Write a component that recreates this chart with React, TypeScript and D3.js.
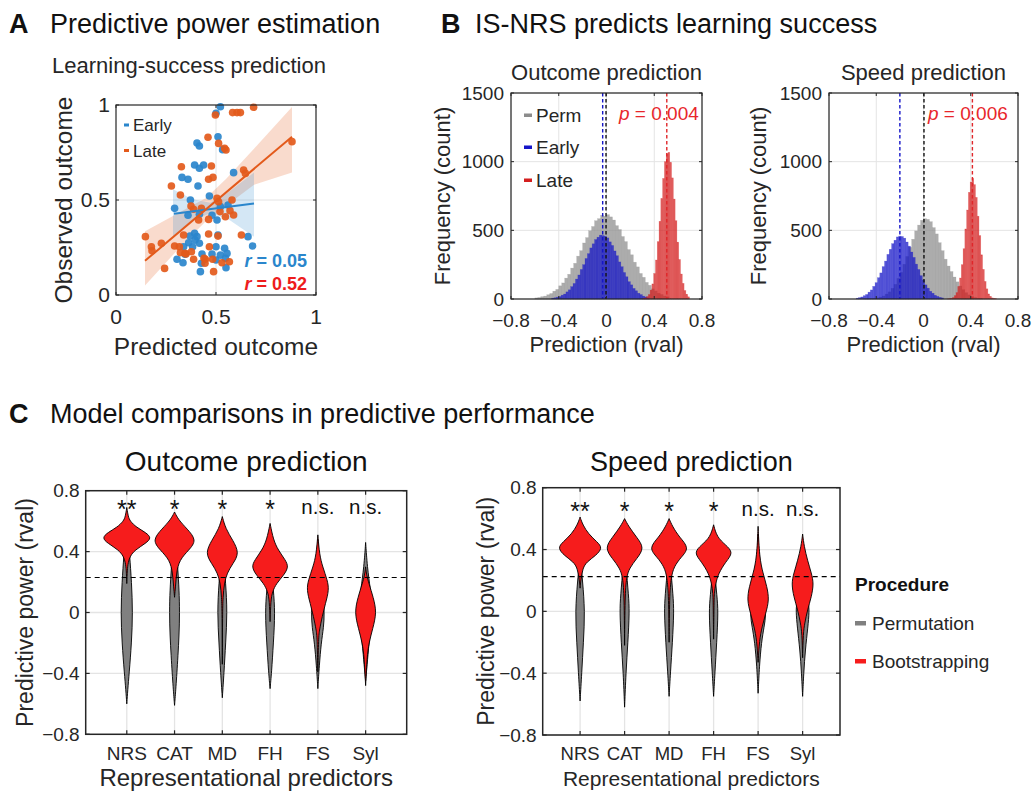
import React from "react";
import * as d3 from "d3";

const FONT = "'Liberation Sans', Arial, Helvetica, sans-serif";
const INK = "#262626";
const GRID = "#e4e4e4";

// ---------------- Panel A: scatter ----------------
const earlyPoints: [number, number][] = [
  [0.522, 0.991], [0.5, 0.956], [0.405, 0.8], [0.417, 0.784], [0.51, 0.833], [0.533, 0.765],
  [0.393, 0.684], [0.417, 0.667], [0.438, 0.684], [0.33, 0.619], [0.36, 0.609], [0.588, 0.644],
  [0.41, 0.574], [0.372, 0.5], [0.467, 0.521], [0.293, 0.456], [0.36, 0.42], [0.417, 0.425],
  [0.48, 0.42], [0.522, 0.465], [0.56, 0.474], [0.505, 0.395], [0.393, 0.325], [0.405, 0.307],
  [0.363, 0.275], [0.338, 0.254], [0.383, 0.254], [0.417, 0.272], [0.43, 0.216], [0.305, 0.188],
  [0.335, 0.17], [0.427, 0.167], [0.48, 0.216], [0.5, 0.254], [0.422, 0.123], [0.51, 0.316],
  [0.66, 0.307], [0.683, 0.258], [0.543, 0.246], [0.555, 0.219], [0.522, 0.21], [0.547, 0.193],
  [0.5, 0.184], [0.55, 0.144], [0.37, 0.31], [0.395, 0.289], [0.345, 0.215],
];
const latePoints: [number, number][] = [
  [0.46, 0.83], [0.327, 0.675], [0.477, 0.679], [0.463, 0.609], [0.485, 0.619], [0.277, 0.574],
  [0.322, 0.526], [0.375, 0.468], [0.388, 0.451], [0.427, 0.456], [0.413, 0.395], [0.463, 0.398],
  [0.147, 0.307], [0.177, 0.254], [0.18, 0.233], [0.227, 0.272], [0.293, 0.258], [0.317, 0.254],
  [0.322, 0.223], [0.338, 0.316], [0.377, 0.228], [0.35, 0.216], [0.243, 0.14], [0.463, 0.321],
  [0.447, 0.188], [0.483, 0.188], [0.388, 0.188], [0.467, 0.254], [0.583, 0.96], [0.605, 0.96],
  [0.622, 0.96], [0.688, 0.988], [0.497, 0.947], [0.513, 0.798], [0.543, 0.772], [0.55, 0.763],
  [0.88, 0.807], [0.638, 0.658], [0.647, 0.64], [0.505, 0.509], [0.513, 0.491], [0.58, 0.5],
  [0.547, 0.412], [0.588, 0.421], [0.627, 0.316], [0.51, 0.31], [0.567, 0.175], [0.53, 0.17],
  [0.488, 0.123], [0.44, 0.193], [0.445, 0.167], [0.345, 0.219], [0.57, 0.444], [0.52, 0.439],
];
const earlyFit: [number, number][] = [[0.29, 0.428], [0.69, 0.482]];
const lateFit: [number, number][] = [[0.145, 0.18], [0.88, 0.833]];
const earlyCI: [number, number, number][] = [
  [0.285, 0.307, 0.556], [0.38, 0.39, 0.505], [0.47, 0.43, 0.485], [0.56, 0.4, 0.54], [0.69, 0.307, 0.645],
];
const lateCI: [number, number, number][] = [
  [0.145, 0.05, 0.335], [0.31, 0.24, 0.43], [0.45, 0.39, 0.51], [0.55, 0.47, 0.61], [0.69, 0.58, 0.77], [0.88, 0.645, 0.99],
];
const scatterTicks = [0, 0.5, 1];
const rEarly = "0.05";
const rLate = "0.52";

// ---------------- Panel B: histograms ----------------
const histTicksX = [-0.8, -0.4, 0, 0.4, 0.8];
const histTicksY = [0, 500, 1000, 1500];
// [binStart, binWidth]
const outcomePermBins: [number, number] = [-0.6, 0.025];
const outcomePermCounts = [8, 11, 17, 21, 31, 40, 57, 70, 96, 117, 152, 180, 225, 260, 312, 352, 408, 447, 497, 528, 570, 585, 610, 603, 614, 598, 575, 534, 506, 455, 418, 360, 322, 268, 234, 186, 158, 121, 100, 74, 59, 42, 33, 22, 16];
const outcomeEarlyBins: [number, number] = [-0.46, 0.02];
const outcomeEarlyCounts = [6, 9, 14, 18, 28, 36, 52, 67, 90, 113, 145, 175, 215, 250, 295, 330, 372, 402, 433, 450, 465, 462, 457, 445, 416, 390, 350, 315, 270, 235, 193, 162, 126, 103, 77, 60, 42, 32, 21, 15, 9];
const outcomeLateBins: [number, number] = [0.305, 0.015];
const outcomeLateCounts = [4, 8, 18, 33, 65, 110, 186, 284, 418, 566, 732, 878, 1000, 1058, 1068, 995, 882, 728, 570, 414, 288, 182, 114, 62, 35, 16];
const speedPermBins: [number, number] = [-0.5, 0.025];
const speedPermCounts = [1, 2, 3, 5, 9, 14, 22, 36, 52, 78, 107, 150, 194, 253, 310, 377, 435, 496, 538, 573, 585, 580, 563, 520, 474, 410, 352, 290, 240, 200, 160, 125, 95, 68, 46, 30, 19, 11, 6, 3];
const speedEarlyBins: [number, number] = [-0.57, 0.02];
const speedEarlyCounts = [6, 10, 15, 24, 33, 50, 66, 92, 119, 155, 190, 236, 276, 325, 362, 403, 428, 452, 458, 455, 443, 415, 385, 342, 303, 254, 215, 170, 138, 103, 79, 56, 42, 27, 19, 12, 8];
const speedLateBins: [number, number] = [0.2, 0.015];
const speedLateCounts = [1, 2, 5, 11, 25, 47, 91, 153, 250, 366, 510, 648, 777, 852, 880, 833, 740, 603, 462, 322, 216, 128, 74, 37, 20, 8, 4, 2];
// dashed reference lines [early, perm, late]
const outcomeMarks = [-0.032, -0.004, 0.505];
const speedMarks = [-0.2, 0.004, 0.414];
const outcomeP = "0.004";
const speedP = "0.006";
const histLegend = ["Perm", "Early", "Late"];

// ---------------- Panel C: violins ----------------
const predictors = ["NRS", "CAT", "MD", "FH", "FS", "Syl"];
const violinTicksY = [-0.8, -0.4, 0, 0.4, 0.8];
const outcomeSig = ["**", "*", "*", "*", "n.s.", "n.s."];
const speedSig = ["**", "*", "*", "*", "n.s.", "n.s."];
const outcomeThreshold = 0.23;
const speedThreshold = 0.225;
type Knots = [number, number][];
// [value, half-width in category units]
const outcomePerm: Knots[] = [
  [[-0.6, 0], [-0.51, 0.02], [-0.4, 0.05], [-0.2, 0.1], [0, 0.125], [0.2, 0.1], [0.38, 0.06], [0.5, 0.025], [0.6, 0]],
  [[-0.61, 0], [-0.5, 0.028], [-0.3, 0.07], [0, 0.12], [0.3, 0.07], [0.45, 0.02], [0.52, 0]],
  [[-0.56, 0], [-0.4, 0.035], [-0.2, 0.07], [0, 0.105], [0.2, 0.07], [0.35, 0.025], [0.42, 0]],
  [[-0.5, 0], [-0.4, 0.03], [-0.2, 0.07], [0, 0.105], [0.15, 0.07], [0.28, 0.025], [0.35, 0]],
  [[-0.5, 0], [-0.35, 0.03], [-0.2, 0.07], [-0.1, 0.12], [0, 0.14], [0.1, 0.105], [0.3, 0.04], [0.48, 0]],
  [[-0.45, 0], [-0.35, 0.03], [-0.2, 0.07], [-0.05, 0.125], [0.05, 0.14], [0.15, 0.1], [0.3, 0.035], [0.46, 0]],
];
const outcomeBoot: Knots[] = [
  [[0.19, 0], [0.28, 0.01], [0.33, 0.03], [0.37, 0.07], [0.41, 0.17], [0.455, 0.4], [0.49, 0.52], [0.525, 0.4], [0.56, 0.2], [0.6, 0.07], [0.63, 0.03], [0.69, 0]],
  [[0.1, 0], [0.17, 0.02], [0.26, 0.04], [0.345, 0.1], [0.41, 0.3], [0.475, 0.47], [0.55, 0.26], [0.61, 0.08], [0.66, 0]],
  [[-0.34, 0], [0, 0.005], [0.1, 0.015], [0.19, 0.04], [0.26, 0.1], [0.32, 0.22], [0.39, 0.36], [0.475, 0.22], [0.55, 0.07], [0.63, 0]],
  [[-0.06, 0], [0.08, 0.015], [0.137, 0.05], [0.19, 0.13], [0.246, 0.29], [0.3, 0.39], [0.345, 0.32], [0.41, 0.17], [0.476, 0.07], [0.585, 0]],
  [[-0.39, 0], [-0.16, 0.015], [-0.115, 0.035], [-0.027, 0.09], [0.06, 0.16], [0.148, 0.235], [0.213, 0.2], [0.3, 0.1], [0.38, 0.035], [0.51, 0]],
  [[-0.48, 0], [-0.29, 0.03], [-0.2, 0.07], [-0.11, 0.145], [0, 0.235], [0.1, 0.16], [0.19, 0.07], [0.246, 0.02], [0.3, 0]],
];
const speedPerm: Knots[] = [
  [[-0.58, 0], [-0.4, 0.037], [-0.2, 0.075], [0, 0.11], [0.2, 0.055], [0.3, 0.02], [0.4, 0]],
  [[-0.62, 0], [-0.4, 0.03], [-0.2, 0.075], [0, 0.11], [0.1, 0.09], [0.3, 0.03], [0.4, 0]],
  [[-0.55, 0], [-0.4, 0.03], [-0.2, 0.075], [0, 0.11], [0.1, 0.09], [0.3, 0.03], [0.4, 0]],
  [[-0.55, 0], [-0.4, 0.03], [-0.2, 0.07], [0, 0.105], [0.1, 0.075], [0.25, 0.025], [0.35, 0]],
  [[-0.53, 0], [-0.35, 0.03], [-0.2, 0.075], [-0.1, 0.135], [-0.02, 0.18], [0.05, 0.135], [0.2, 0.045], [0.5, 0]],
  [[-0.55, 0], [-0.4, 0.025], [-0.25, 0.06], [-0.1, 0.12], [0, 0.15], [0.05, 0.135], [0.2, 0.045], [0.45, 0]],
];
const speedBoot: Knots[] = [
  [[0.15, 0], [0.2, 0.015], [0.28, 0.06], [0.32, 0.15], [0.36, 0.35], [0.41, 0.51], [0.45, 0.38], [0.5, 0.19], [0.56, 0.06], [0.61, 0]],
  [[-0.22, 0], [0.1, 0.01], [0.22, 0.04], [0.28, 0.11], [0.34, 0.27], [0.41, 0.45], [0.48, 0.27], [0.55, 0.09], [0.6, 0]],
  [[-0.2, 0], [0.1, 0.01], [0.22, 0.045], [0.29, 0.11], [0.35, 0.27], [0.41, 0.46], [0.48, 0.23], [0.55, 0.075], [0.6, 0]],
  [[-0.18, 0], [0.05, 0.01], [0.115, 0.015], [0.18, 0.045], [0.245, 0.11], [0.32, 0.27], [0.38, 0.45], [0.43, 0.27], [0.48, 0.075], [0.56, 0]],
  [[-0.33, 0], [-0.185, 0.03], [-0.1, 0.09], [-0.013, 0.17], [0.073, 0.25], [0.16, 0.2], [0.245, 0.11], [0.35, 0.03], [0.55, 0]],
  [[-0.3, 0], [-0.14, 0.015], [-0.08, 0.045], [0.01, 0.11], [0.095, 0.2], [0.18, 0.25], [0.245, 0.2], [0.33, 0.11], [0.42, 0.035], [0.5, 0]],
];
const procedureLegend = ["Permutation", "Bootstrapping"];

// ---------------- colours ----------------
const C_EARLY = "#2a86cc";
const C_LATE = "#e35a1b";
const C_R = "#ee1c1c";
const H_GRAY = "#8c8c8c";
const H_BLUE = "#1515c8";
const H_RED = "#d41f1f";
const V_GRAY = "#808080";
const V_RED = "#f61c1c";

function fmt(v: number) {
  if (v === 0) return "0";
  const s = String(v);
  return v < 0 ? "\u2212" + s.slice(1) : s;
}

function PanelA() {
  const L = 116, R = 316, T = 105, B = 295;
  const x = d3.scaleLinear().domain([0, 1]).range([L, R]);
  const y = d3.scaleLinear().domain([0, 1]).range([B, T]);
  const band = d3.area<[number, number, number]>().x((d) => x(d[0])).y0((d) => y(d[1])).y1((d) => y(d[2]));
  const line = d3.line<[number, number]>().x((d) => x(d[0])).y((d) => y(d[1]));
  return (
    <g>
      <text x={52} y={73} fontSize={22} fill={INK}>Learning-success prediction</text>
      <line x1={x(0.5)} x2={x(0.5)} y1={T} y2={B} stroke={GRID} />
      <line x1={L} x2={R} y1={y(0.5)} y2={y(0.5)} stroke={GRID} />
      <path d={band(lateCI) || ""} fill={C_LATE} fillOpacity={0.22} />
      <path d={band(earlyCI) || ""} fill={C_EARLY} fillOpacity={0.2} />
      {earlyPoints.map((p, i) => (
        <circle key={"e" + i} cx={x(p[0])} cy={y(p[1])} r={3.8} fill={C_EARLY} fillOpacity={0.92} />
      ))}
      {latePoints.map((p, i) => (
        <circle key={"l" + i} cx={x(p[0])} cy={y(p[1])} r={3.8} fill={C_LATE} fillOpacity={0.92} />
      ))}
      <path d={line(earlyFit) || ""} stroke={C_EARLY} strokeWidth={2} fill="none" />
      <path d={line(lateFit) || ""} stroke={C_LATE} strokeWidth={2} fill="none" />
      <rect x={L} y={T} width={R - L} height={B - T} fill="none" stroke={INK} strokeWidth={1.2} />
      {scatterTicks.map((t) => (
        <g key={"t" + t}>
          <line x1={x(t)} x2={x(t)} y1={B} y2={B - 3} stroke={INK} />
          <line x1={x(t)} x2={x(t)} y1={T} y2={T + 3} stroke={INK} />
          <line x1={L} x2={L + 3} y1={y(t)} y2={y(t)} stroke={INK} />
          <line x1={R} x2={R - 3} y1={y(t)} y2={y(t)} stroke={INK} />
          <text x={x(t)} y={324} fontSize={21} textAnchor="middle" fill={INK}>{fmt(t)}</text>
          <text x={L - 6} y={y(t)} dy="0.35em" fontSize={21} textAnchor="end" fill={INK}>{fmt(t)}</text>
        </g>
      ))}
      <rect x={124} y={123.5} width={5} height={3} fill={C_EARLY} />
      <text x={133} y={131} fontSize={17} fill={INK}>Early</text>
      <rect x={124} y={149} width={5} height={3} fill={C_LATE} />
      <text x={133} y={156.5} fontSize={17} fill={INK}>Late</text>
      <text x={307} y={267} fontSize={18} fontWeight="bold" textAnchor="end" fill={C_EARLY}>
        <tspan fontStyle="italic">r</tspan> = {rEarly}
      </text>
      <text x={307} y={290} fontSize={18} fontWeight="bold" textAnchor="end" fill={C_R}>
        <tspan fontStyle="italic">r</tspan> = {rLate}
      </text>
      <text x={(L + R) / 2} y={355} fontSize={24.5} textAnchor="middle" fill={INK}>Predicted outcome</text>
      <text transform={`translate(72,${(T + B) / 2}) rotate(-90)`} fontSize={24.5} textAnchor="middle" fill={INK}>Observed outcome</text>
    </g>
  );
}

type HistSeries = { bins: [number, number]; counts: number[]; color: string };

function Hist(props: {
  L: number; R: number; title: string; ylabelX: number; series: HistSeries[]; marks: number[]; p: string; pX: number; legend: boolean;
}) {
  const { L, R } = props;
  const T = 93, B = 299;
  const x = d3.scaleLinear().domain([-0.8, 0.8]).range([L, R]);
  const y = d3.scaleLinear().domain([0, 1500]).range([B, T]);
  const markColors = [H_BLUE, "#111", "#e0262a"];
  const cx = (L + R) / 2;
  return (
    <g>
      <text x={cx} y={80} fontSize={22} textAnchor="middle" fill={INK}>{props.title}</text>
      {histTicksX.map((t) => (
        <line key={"gx" + t} x1={x(t)} x2={x(t)} y1={T} y2={B} stroke={GRID} />
      ))}
      {histTicksY.map((t) => (
        <line key={"gy" + t} x1={L} x2={R} y1={y(t)} y2={y(t)} stroke={GRID} />
      ))}
      {props.series.map((s, si) => (
        <g key={"s" + si}>
          {s.counts.map((c, i) => {
            const a = s.bins[0] + i * s.bins[1];
            const b = a + s.bins[1];
            return (
              <rect key={i} x={x(a)} width={x(b) - x(a)} y={y(c)} height={B - y(c)} fill={s.color} fillOpacity={0.72}
                stroke={s.color} strokeOpacity={0.35} strokeWidth={0.5} />
            );
          })}
        </g>
      ))}
      {props.marks.map((m, i) => (
        <line key={"m" + i} x1={x(m)} x2={x(m)} y1={T} y2={B} stroke={markColors[i]} strokeWidth={1.4} strokeDasharray="3.5,2.5" />
      ))}
      <rect x={L} y={T} width={R - L} height={B - T} fill="none" stroke={INK} strokeWidth={1.2} />
      {histTicksX.map((t) => (
        <g key={"tx" + t}>
          <line x1={x(t)} x2={x(t)} y1={B} y2={B - 3} stroke={INK} />
          <line x1={x(t)} x2={x(t)} y1={T} y2={T + 3} stroke={INK} />
          <text x={x(t)} y={327} fontSize={19} textAnchor="middle" fill={INK}>{fmt(t)}</text>
        </g>
      ))}
      {histTicksY.map((t) => (
        <g key={"ty" + t}>
          <line x1={L} x2={L + 3} y1={y(t)} y2={y(t)} stroke={INK} />
          <line x1={R} x2={R - 3} y1={y(t)} y2={y(t)} stroke={INK} />
          <text x={L - 7} y={y(t)} dy="0.35em" fontSize={19} textAnchor="end" fill={INK}>{t}</text>
        </g>
      ))}
      <text x={props.pX} y={120} fontSize={19} fill="#e8262b">
        <tspan fontStyle="italic">p</tspan> = {props.p}
      </text>
      {props.legend &&
        histLegend.map((name, i) => (
          <g key={name}>
            <rect x={524} y={[113.5, 145.5, 178.5][i]} width={8} height={3.5} fill={[H_GRAY, H_BLUE, H_RED][i]} />
            <text x={536} y={[115, 147, 180][i]} dy="0.36em" fontSize={19} fill={INK}>{name}</text>
          </g>
        ))}
      <text x={(L + R) / 2} y={352} fontSize={22} textAnchor="middle" fill={INK}>Prediction (rval)</text>
      <text transform={`translate(${props.ylabelX},${(T + B) / 2}) rotate(-90)`} fontSize={22} textAnchor="middle" fill={INK}>Frequency (count)</text>
    </g>
  );
}

function Violins(props: {
  L: number; R: number; T: number; B: number; domain: [number, number]; title: string; titleSize: number;
  perm: Knots[]; boot: Knots[]; sig: string[]; threshold: number; tickSize: number; xlabelSize: number; ylabelX: number; sigY: number;
}) {
  const { L, R, T, B } = props;
  const x = d3.scaleLinear().domain(props.domain).range([L, R]);
  const y = d3.scaleLinear().domain([-0.8, 0.8]).range([B, T]);
  const unit = x(1) - x(0);
  const shape = (k: Knots, cx: number) =>
    d3.area<[number, number]>().curve(d3.curveBasis).y((d) => y(d[0])).x0((d) => cx - d[1] * unit).x1((d) => cx + d[1] * unit)(k) || "";
  return (
    <g>
      <text x={(L + R) / 2} y={471} fontSize={props.titleSize} textAnchor="middle" fill="#111">{props.title}</text>
      {predictors.map((p, i) => (
        <line key={"gx" + p} x1={x(i + 1)} x2={x(i + 1)} y1={T} y2={B} stroke={GRID} strokeWidth={1.3} />
      ))}
      {violinTicksY.map((t) => (
        <line key={"gy" + t} x1={L} x2={R} y1={y(t)} y2={y(t)} stroke={GRID} strokeWidth={1.3} />
      ))}
      {predictors.map((p, i) => (
        <g key={"v" + p}>
          <path d={shape(props.perm[i], x(i + 1))} fill={V_GRAY} stroke="#000" strokeWidth={0.9} />
          <path d={shape(props.boot[i], x(i + 1))} fill={V_RED} stroke="#000" strokeWidth={0.9} />
        </g>
      ))}
      <line x1={L} x2={R} y1={y(props.threshold)} y2={y(props.threshold)} stroke="#000" strokeWidth={1.2} strokeDasharray="5,4" />
      {props.sig.map((s, i) => (
        <text key={"sig" + i} x={x(i + 1)} y={s.startsWith("*") ? props.sigY + 4 : props.sigY} fontSize={s.startsWith("*") ? 25 : 20.5}
          textAnchor="middle" fill="#111">{s}</text>
      ))}
      <rect x={L} y={T} width={R - L} height={B - T} fill="none" stroke={INK} strokeWidth={1.5} />
      {predictors.map((p, i) => (
        <g key={"tx" + p}>
          <line x1={x(i + 1)} x2={x(i + 1)} y1={B} y2={B - 4} stroke={INK} strokeWidth={1.2} />
          <line x1={x(i + 1)} x2={x(i + 1)} y1={T} y2={T + 4} stroke={INK} strokeWidth={1.2} />
          <text x={x(i + 1)} y={760} fontSize={props.tickSize} textAnchor="middle" fill={INK}>{p}</text>
        </g>
      ))}
      {violinTicksY.map((t) => (
        <g key={"ty" + t}>
          <line x1={L} x2={L + 4} y1={y(t)} y2={y(t)} stroke={INK} strokeWidth={1.2} />
          <line x1={R} x2={R - 4} y1={y(t)} y2={y(t)} stroke={INK} strokeWidth={1.2} />
          <text x={L - 6} y={y(t)} dy="0.35em" fontSize={19} textAnchor="end" fill={INK}>{fmt(t)}</text>
        </g>
      ))}
      <text x={(L + R) / 2} y={786} fontSize={props.xlabelSize} textAnchor="middle" fill={INK}>Representational predictors</text>
      <text transform={`translate(${props.ylabelX},${(T + B) / 2}) rotate(-90)`} fontSize={23} textAnchor="middle" fill={INK}>Predictive power (rval)</text>
    </g>
  );
}

export default function App() {
  return (
    <svg width={1034} height={797} viewBox="0 0 1034 797" style={{ position: "absolute", left: 0, top: 0 }} fontFamily={FONT}>
      <rect width={1034} height={797} fill="#fff" />
      <text x={9} y={33} fontSize={27} fontWeight="bold" fill="#111">A</text>
      <text x={50} y={33} fontSize={27} fill="#111">Predictive power estimation</text>
      <text x={441} y={33} fontSize={27} fontWeight="bold" fill="#111">B</text>
      <text x={475} y={33} fontSize={27} fill="#111">IS-NRS predicts learning success</text>
      <text x={9} y={423} fontSize={27} fontWeight="bold" fill="#111">C</text>
      <text x={50} y={423} fontSize={27} fill="#111">Model comparisons in predictive performance</text>
      <PanelA />
      <Hist L={511} R={702} title="Outcome prediction" ylabelX={450} marks={outcomeMarks} p={outcomeP} pX={619} legend={true}
        series={[
          { bins: outcomePermBins, counts: outcomePermCounts, color: H_GRAY },
          { bins: outcomeEarlyBins, counts: outcomeEarlyCounts, color: H_BLUE },
          { bins: outcomeLateBins, counts: outcomeLateCounts, color: H_RED },
        ]} />
      <Hist L={829} R={1018} title="Speed prediction" ylabelX={766} marks={speedMarks} p={speedP} pX={928} legend={false}
        series={[
          { bins: speedPermBins, counts: speedPermCounts, color: H_GRAY },
          { bins: speedEarlyBins, counts: speedEarlyCounts, color: H_BLUE },
          { bins: speedLateBins, counts: speedLateCounts, color: H_RED },
        ]} />
      <Violins L={85.7} R={406.7} T={490.7} B={734.3} domain={[0.14, 6.86]} title="Outcome prediction" titleSize={28}
        perm={outcomePerm} boot={outcomeBoot} sig={outcomeSig} threshold={outcomeThreshold} tickSize={19} xlabelSize={24} ylabelX={33} sigY={514} />
      <Violins L={542.7} R={840} T={487.7} B={735} domain={[0.16, 6.84]} title="Speed prediction" titleSize={27}
        perm={speedPerm} boot={speedBoot} sig={speedSig} threshold={speedThreshold} tickSize={18.5} xlabelSize={21} ylabelX={494} sigY={516} />
      <text x={855} y={591} fontSize={19} fontWeight="bold" fill="#111">Procedure</text>
      {procedureLegend.map((name, i) => (
        <g key={name}>
          <rect x={855} y={[621, 659][i]} width={11} height={4.5} fill={[V_GRAY, V_RED][i]} />
          <text x={872} y={[630, 668][i]} fontSize={19} fill={INK}>{name}</text>
        </g>
      ))}
    </svg>
  );
}
